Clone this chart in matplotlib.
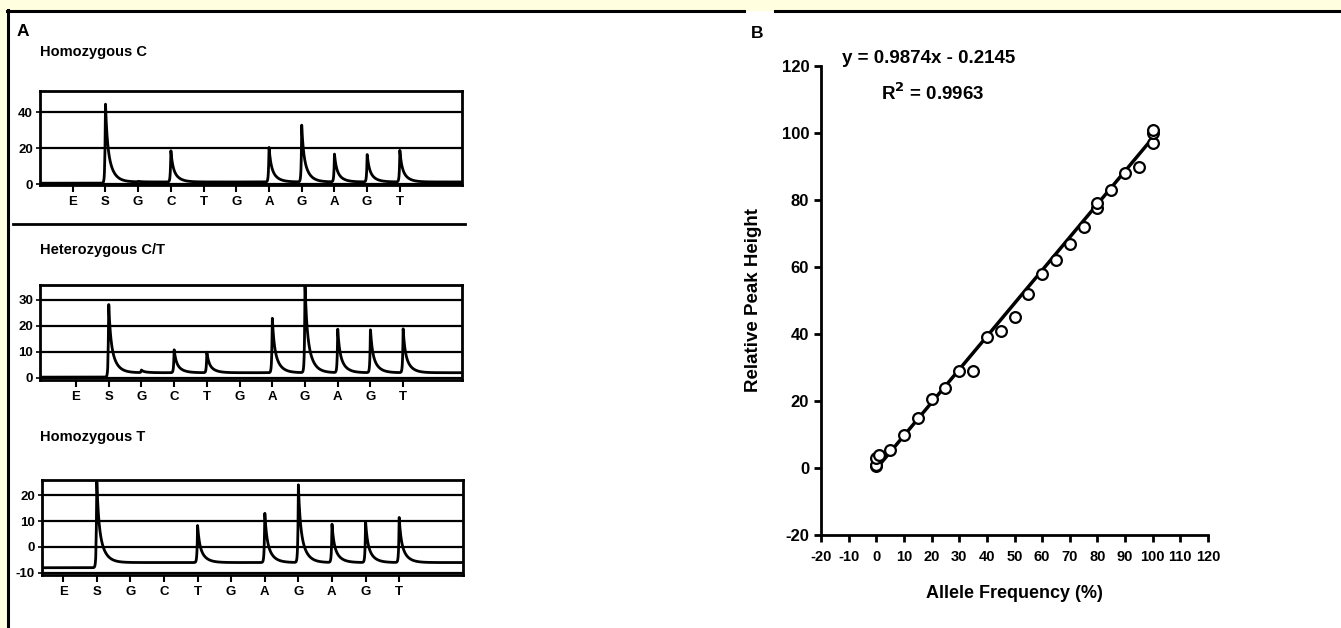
import numpy as np
import matplotlib
matplotlib.use("Agg")
import matplotlib.pyplot as plt
from matplotlib.patches import Rectangle
from matplotlib.lines import Line2D

plt.rcParams['font.family'] = ['Liberation Sans', 'DejaVu Sans']
plt.rcParams['font.weight'] = 'bold'
plt.rcParams['axes.unicode_minus'] = False

W, H = 1341, 628

# Panel A: pyrogram dispensations and peak heights
dispensations = ["E", "S", "G", "C", "T", "G", "A", "G", "A", "G", "T"]
homC_peaks = [0, 46, 1.5, 19, 0, 0, 21, 33, 17, 17, 19]
hetCT_peaks = [0, 29, 3, 11, 10, 0, 23.5, 37, 19, 19, 19]
homT_peaks = [0, 26, 0, 0, 8.5, 0, 13.5, 24, 9, 10, 11.5]
homC_base = (0.5, 1.2)
hetCT_base = (0.3, 2.0)
homT_base = (-8.0, -6.0)
homC_yticks = [0, 20, 40]
hetCT_yticks = [0, 10, 20, 30]
homT_yticks = [-10, 0, 10, 20]

# Panel B: allele frequency vs relative peak height
allele_freq = [0, 0, 0, 1, 5, 10, 15, 20, 25, 30, 35, 40, 45, 50, 55, 60, 65,
               70, 75, 80, 80, 85, 90, 95, 100, 100, 100]
peak_height = [0.5, 1, 3, 4, 5.5, 10, 15, 20.5, 24, 29, 29, 39, 41, 45, 52,
               58, 62, 67, 72, 77.5, 79, 83, 88, 90, 97, 100, 101]
slope, intercept = 0.9874, -0.2145


def px_axes(fig, x0, y0, x1, y1):
    return fig.add_axes([x0 / W, 1 - y1 / H, (x1 - x0) / W, (y1 - y0) / H])


def draw_pyrogram(ax, peaks, base, yticks, ylim, xlim):
    x = np.linspace(0, 13, 4000)
    y = np.where(x < 2 - 0.03, base[0], base[1]).astype(float)
    for i, h in enumerate(peaks):
        if i == 0 or h <= 0:
            continue
        d = x - (i + 1)
        shape = np.where(d < 0, np.exp(d / 0.015),
                         0.45 * np.exp(-d / 0.05) + 0.55 * np.exp(-d / 0.17))
        y = y + (h - base[1]) * shape
    ax.plot(x, y, color='black', lw=2)
    for t in yticks:
        ax.axhline(t, color='black', lw=1.6, zorder=0)
    ax.set_xlim(*xlim)
    ax.set_ylim(*ylim)
    ax.set_xticks(range(1, len(dispensations) + 1))
    ax.set_xticklabels(dispensations, fontsize=9.5, fontweight='bold')
    ax.set_yticks(yticks)
    ax.set_yticklabels([str(t) for t in yticks], fontsize=9.5, fontweight='bold')
    ax.tick_params(axis='x', direction='out', length=5, width=1.5, pad=3)
    ax.tick_params(axis='y', direction='out', length=3, width=1.2, pad=2)
    for s in ax.spines.values():
        s.set_linewidth(2)


fig = plt.figure(figsize=(W / 100, H / 100), dpi=100)

# frame strips
fig.patches.append(Rectangle((0, 1 - 10 / H), 1, 10 / H, color='#FFFFE0',
                             transform=fig.transFigure, zorder=-5))
fig.patches.append(Rectangle((0, 0), 7 / W, 1, color='#FFFFE0',
                             transform=fig.transFigure, zorder=-5))
fig.add_artist(Line2D([7 / W, 744 / W], [1 - 10.5 / H] * 2, color='black', lw=2.2))
fig.add_artist(Line2D([775 / W, 1], [1 - 10.5 / H] * 2, color='black', lw=2.2))
fig.add_artist(Line2D([7.5 / W] * 2, [0, 1 - 10 / H], color='black', lw=2.2))

fig.text(17 / W, 1 - 31 / H, "A", fontsize=12.5, fontweight='bold', va='center')
fig.text(751 / W, 1 - 33 / H, "B", fontsize=12.5, fontweight='bold', va='center')

ax1 = px_axes(fig, 40, 91, 462, 185)
draw_pyrogram(ax1, homC_peaks, homC_base, homC_yticks, (-0.5, 52), (0, 12.9))
fig.text(40 / W, 1 - 52 / H, "Homozygous C", fontsize=10.5, fontweight='bold', va='center')

fig.add_artist(Line2D([13 / W, 465 / W], [1 - 224 / H] * 2, color='black', lw=2))

ax2 = px_axes(fig, 40, 285, 462, 380)
draw_pyrogram(ax2, hetCT_peaks, hetCT_base, hetCT_yticks, (-0.8, 35.7), (-0.1, 12.8))
fig.text(40 / W, 1 - 250 / H, "Heterozygous C/T", fontsize=10.5, fontweight='bold', va='center')

ax3 = px_axes(fig, 42, 480, 463, 575)
draw_pyrogram(ax3, homT_peaks, homT_base, homT_yticks, (-10.8, 25.8), (0.37, 12.9))
fig.text(40 / W, 1 - 437 / H, "Homozygous T", fontsize=10.5, fontweight='bold', va='center')

# Panel B
axb = px_axes(fig, 821, 66, 1208, 535)
xs = np.array([0, 100])
axb.plot(xs, slope * xs + intercept, color='black', lw=2.5, zorder=2)
axb.scatter(allele_freq, peak_height, s=60, facecolors='white',
            edgecolors='black', linewidths=1.6, zorder=3)
axb.set_xlim(-20, 120)
axb.set_ylim(-20, 120)
axb.set_xticks(range(-20, 121, 10))
axb.set_yticks(range(-20, 121, 20))
axb.tick_params(direction='out', length=5, width=2)
axb.tick_params(axis='x', labelsize=10.5, pad=6)
axb.tick_params(axis='y', labelsize=12)
for lab in axb.get_xticklabels() + axb.get_yticklabels():
    lab.set_fontweight('bold')
for side in ['top', 'right']:
    axb.spines[side].set_visible(False)
for side in ['left', 'bottom']:
    axb.spines[side].set_linewidth(2)
axb.set_xlabel("Allele Frequency (%)", fontsize=13, fontweight='bold', labelpad=15)
axb.set_ylabel("Relative Peak Height", fontsize=13.5, fontweight='bold', labelpad=14)
axb.text(0.054, 1.017, "y = 0.9874x - 0.2145", transform=axb.transAxes,
         fontsize=13.5, fontweight='bold', va='center')
axb.text(0.155, 0.942, "R$^2$ = 0.9963", transform=axb.transAxes,
         fontsize=13.5, fontweight='bold', va='center')

fig.savefig("out.png", dpi=100)
